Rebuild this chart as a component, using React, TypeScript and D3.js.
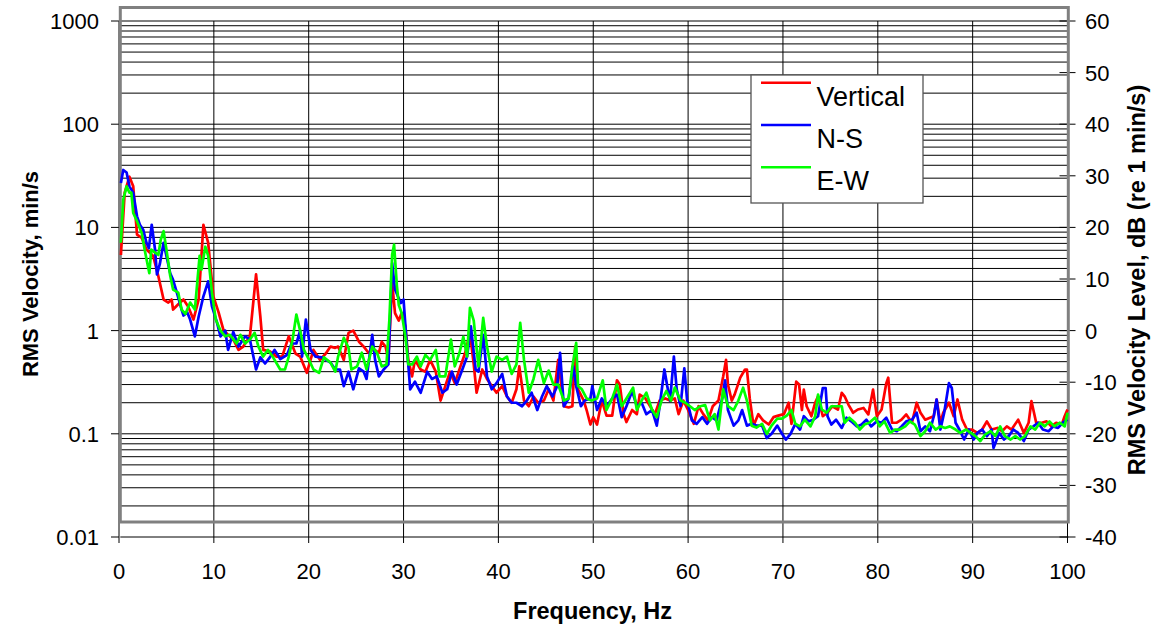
import React from "react";
import * as d3 from "d3";

type Pt = [number, number];

// Frequency (Hz), RMS velocity (min/s)
const vertical: Pt[] = [
  [0.2, 5.4], [0.6, 21.7], [1.1, 31], [1.5, 25], [1.9, 8.5], [2.4, 7.9], [2.9, 6.1], [3.6, 5.3],
  [4.15, 3.36], [4.7, 2.0], [5.2, 1.87], [5.55, 2.0], [5.7, 1.6], [6.25, 1.8], [6.8, 2.0], [7.3, 1.7],
  [7.85, 1.28], [8.4, 2.0], [8.9, 10.6], [9.4, 7.1], [9.95, 2.15], [10.5, 1.5], [11.0, 1.02], [11.5, 0.91],
  [12.05, 0.82], [12.6, 0.65], [13.1, 0.7], [13.8, 0.88], [14.45, 3.5], [14.9, 1.37], [15.2, 0.65],
  [15.9, 0.63], [16.6, 0.56], [17.2, 0.56], [17.9, 0.88], [18.6, 0.6], [19.1, 0.56], [19.8, 0.39],
  [20.5, 0.65], [21.2, 0.52], [21.8, 0.6], [22.3, 0.7], [22.8, 0.68], [23.1, 0.7], [23.7, 0.52],
  [24.2, 0.95], [24.7, 1.0], [25.3, 0.78], [25.8, 0.7], [26.3, 0.61], [26.8, 0.66], [27.4, 0.61],
  [27.7, 0.78], [28.1, 0.7], [28.4, 0.52], [28.8, 2.9], [29.1, 1.48], [29.5, 1.25], [29.8, 1.48],
  [30.2, 1.1], [30.5, 0.52], [30.9, 0.36], [31.2, 0.52], [31.8, 0.42], [32.3, 0.4], [32.8, 0.52],
  [33.4, 0.4], [33.9, 0.21], [34.4, 0.29], [34.9, 0.4], [35.4, 0.31], [36.0, 0.45], [36.5, 0.61],
  [37.0, 0.95], [37.4, 0.47], [37.7, 0.25], [38.3, 0.42], [38.8, 0.34], [39.3, 0.29], [39.8, 0.25],
  [40.4, 0.29], [40.9, 0.23], [41.4, 0.2], [41.9, 0.27], [42.2, 0.45], [42.7, 0.21], [43.2, 0.185],
  [43.7, 0.23], [44.2, 0.2], [44.8, 0.21], [45.3, 0.27], [45.8, 0.21], [46.3, 0.52], [46.9, 0.185],
  [47.4, 0.18], [47.8, 0.185], [48.1, 0.7], [48.4, 0.27], [49.0, 0.21], [49.3, 0.17], [49.7, 0.123],
  [50.0, 0.145], [50.4, 0.123], [50.9, 0.21], [51.4, 0.15], [52.0, 0.15], [52.5, 0.33], [52.8, 0.3],
  [53.2, 0.155], [53.5, 0.13], [54.1, 0.17], [54.6, 0.155], [54.9, 0.24], [55.5, 0.22], [56.0, 0.185],
  [56.5, 0.155], [57.0, 0.21], [57.6, 0.22], [58.1, 0.21], [58.6, 0.22], [59.0, 0.155], [59.5, 0.21],
  [60.0, 0.17], [60.6, 0.125], [61.1, 0.185], [61.6, 0.155], [62.1, 0.135], [62.6, 0.185], [63.2, 0.21],
  [63.7, 0.36], [64.0, 0.52], [64.2, 0.3], [64.6, 0.21], [64.9, 0.24], [65.5, 0.35], [66.0, 0.42],
  [66.2, 0.42], [66.5, 0.22], [66.9, 0.12], [67.4, 0.155], [67.9, 0.135], [68.5, 0.123], [69.0, 0.145],
  [69.5, 0.15], [70.1, 0.155], [70.6, 0.2], [70.9, 0.125], [71.4, 0.32], [71.7, 0.3], [72.0, 0.17],
  [72.2, 0.268], [72.5, 0.185], [73.0, 0.148], [73.4, 0.2], [73.7, 0.231], [74.2, 0.148], [74.7, 0.16],
  [75.2, 0.185], [75.8, 0.172], [76.2, 0.249], [76.5, 0.231], [76.9, 0.192], [77.4, 0.16], [77.9, 0.172],
  [78.5, 0.178], [79.0, 0.154], [79.5, 0.268], [79.9, 0.148], [80.4, 0.172], [80.9, 0.31], [81.1, 0.35],
  [81.5, 0.128], [82.0, 0.128], [82.5, 0.137], [83.0, 0.154], [83.6, 0.128], [84.1, 0.2], [84.5, 0.16],
  [85.0, 0.137], [85.5, 0.143], [85.9, 0.148], [86.2, 0.215], [86.6, 0.128], [86.9, 0.16], [87.5, 0.2],
  [88.0, 0.148], [88.4, 0.215], [88.9, 0.137], [89.4, 0.11], [89.9, 0.11], [90.5, 0.102], [91.0, 0.11],
  [91.5, 0.132], [92.0, 0.11], [92.6, 0.114], [93.1, 0.106], [93.6, 0.118], [94.1, 0.11], [94.8, 0.137],
  [95.4, 0.102], [95.9, 0.128], [96.2, 0.207], [96.7, 0.128], [97.3, 0.128], [97.8, 0.132], [98.3, 0.118],
  [98.8, 0.128], [99.4, 0.123], [99.7, 0.148], [100, 0.172],
];

const northSouth: Pt[] = [
  [0.2, 27], [0.45, 36], [0.8, 34], [1.1, 25], [1.5, 21.7], [1.9, 12.8], [2.2, 10.6], [2.55, 9.5],
  [2.9, 7.1], [3.15, 6.3], [3.45, 10.6], [3.8, 6.1], [4.0, 3.5], [4.3, 4.4], [4.7, 7.1], [5.0, 5.3],
  [5.4, 3.6], [5.7, 3.1], [6.1, 2.33], [6.6, 1.6], [6.8, 1.4], [7.2, 1.5], [7.5, 1.28], [8.0, 0.88],
  [8.4, 1.37], [8.9, 2.15], [9.4, 3.0], [9.8, 1.72], [10.3, 1.23], [10.7, 0.88], [11.2, 1.0], [11.5, 0.65],
  [12.05, 0.97], [12.6, 0.7], [13.3, 0.88], [13.8, 0.82], [14.45, 0.42], [14.9, 0.55], [15.4, 0.48],
  [15.9, 0.55], [16.4, 0.65], [17.0, 0.53], [17.7, 0.58], [18.2, 0.75], [18.7, 0.75], [19.1, 1.0],
  [19.3, 0.56], [19.7, 1.28], [20.2, 0.65], [20.7, 0.56], [21.4, 0.55], [22.3, 0.49], [22.8, 0.42],
  [23.3, 0.42], [23.7, 0.29], [24.2, 0.4], [24.7, 0.27], [25.3, 0.43], [25.8, 0.4], [26.1, 0.34],
  [26.7, 0.91], [27.0, 0.52], [27.4, 0.36], [27.9, 0.42], [28.4, 0.47], [28.8, 4.5], [29.1, 2.5],
  [29.7, 1.85], [30.0, 2.0], [30.4, 0.61], [30.7, 0.27], [31.2, 0.32], [31.8, 0.25], [32.5, 0.4],
  [33.0, 0.34], [33.5, 0.36], [34.1, 0.25], [34.6, 0.27], [35.1, 0.4], [35.6, 0.3], [36.2, 0.42],
  [36.7, 0.56], [37.1, 1.1], [37.6, 0.42], [37.9, 0.4], [38.4, 0.91], [38.8, 0.36], [39.3, 0.27],
  [39.8, 0.31], [40.4, 0.38], [40.9, 0.23], [41.4, 0.2], [41.9, 0.2], [42.5, 0.185], [43.0, 0.21],
  [43.5, 0.25], [44.1, 0.17], [44.6, 0.23], [45.1, 0.29], [45.7, 0.23], [46.2, 0.29], [46.5, 0.61],
  [46.9, 0.185], [47.4, 0.22], [47.9, 0.45], [48.2, 0.29], [48.7, 0.185], [49.1, 0.21], [49.7, 0.22],
  [49.9, 0.29], [50.4, 0.17], [50.9, 0.22], [51.4, 0.185], [52.0, 0.22], [52.5, 0.24], [53.0, 0.145],
  [53.5, 0.185], [54.1, 0.26], [54.6, 0.185], [55.1, 0.2], [55.6, 0.155], [56.2, 0.17], [56.7, 0.12],
  [57.0, 0.185], [57.5, 0.42], [57.8, 0.29], [58.1, 0.21], [58.5, 0.56], [58.8, 0.27], [59.2, 0.185],
  [59.6, 0.43], [59.9, 0.21], [60.4, 0.135], [60.9, 0.125], [61.5, 0.145], [62.0, 0.125], [62.5, 0.145],
  [63.0, 0.135], [63.6, 0.22], [63.9, 0.33], [64.2, 0.17], [64.8, 0.12], [65.3, 0.135], [65.7, 0.17],
  [66.2, 0.12], [66.7, 0.125], [67.2, 0.12], [67.8, 0.12], [68.3, 0.091], [68.8, 0.1], [69.4, 0.12],
  [69.9, 0.1], [70.3, 0.088], [70.8, 0.1], [71.3, 0.125], [71.8, 0.11], [72.2, 0.148], [72.7, 0.132],
  [73.2, 0.137], [73.7, 0.148], [74.2, 0.278], [74.5, 0.278], [74.7, 0.148], [75.1, 0.123], [75.6, 0.137],
  [76.2, 0.114], [76.7, 0.143], [77.2, 0.132], [77.8, 0.118], [78.3, 0.123], [78.8, 0.137], [79.3, 0.118],
  [79.9, 0.132], [80.4, 0.128], [80.9, 0.143], [81.5, 0.11], [82.0, 0.106], [82.5, 0.118], [83.0, 0.132],
  [83.6, 0.137], [84.1, 0.16], [84.5, 0.106], [85.0, 0.118], [85.5, 0.106], [85.9, 0.148], [86.2, 0.215],
  [86.6, 0.11], [87.0, 0.16], [87.5, 0.31], [87.8, 0.278], [88.2, 0.128], [88.6, 0.11], [89.1, 0.088],
  [89.6, 0.11], [90.1, 0.088], [90.5, 0.102], [91.0, 0.11], [91.5, 0.095], [92.0, 0.11], [92.2, 0.073],
  [92.8, 0.102], [93.3, 0.088], [93.8, 0.095], [94.3, 0.11], [94.8, 0.102], [95.4, 0.085], [95.9, 0.11],
  [96.4, 0.118], [96.9, 0.128], [97.4, 0.11], [98.0, 0.106], [98.5, 0.118], [99.0, 0.114], [99.5, 0.128],
  [100, 0.137],
];

const eastWest: Pt[] = [
  [0.2, 7.1], [0.45, 18.6], [0.8, 25], [1.1, 21.7], [1.3, 21.7], [1.5, 13.8], [1.9, 11.5], [2.4, 8.8],
  [2.7, 6.1], [3.2, 3.6], [3.4, 6.1], [3.8, 5.7], [4.15, 5.4], [4.4, 7.6], [4.7, 9.2], [5.0, 6.1],
  [5.4, 3.4], [5.7, 2.5], [6.25, 2.33], [6.6, 1.6], [7.0, 1.45], [7.5, 1.87], [8.0, 1.6], [8.5, 5.3],
  [8.7, 3.9], [9.1, 6.5], [9.4, 5.3], [9.8, 2.33], [10.2, 1.28], [10.7, 1.0], [11.2, 0.88], [11.7, 0.91],
  [12.4, 0.75], [12.8, 0.91], [13.3, 0.75], [13.8, 0.82], [14.3, 0.95], [14.7, 0.7], [15.2, 0.56],
  [15.7, 0.65], [16.2, 0.56], [17.0, 0.42], [17.5, 0.42], [17.9, 0.56], [18.3, 0.82], [18.7, 1.43],
  [19.1, 1.0], [19.5, 0.65], [20.0, 0.53], [20.5, 0.42], [21.1, 0.39], [21.6, 0.55], [22.3, 0.49],
  [22.8, 0.4], [23.1, 0.56], [23.7, 0.85], [24.2, 0.68], [24.5, 0.42], [25.1, 0.45], [25.6, 0.61],
  [26.1, 0.42], [26.7, 0.7], [27.2, 0.61], [27.7, 0.45], [28.2, 0.47], [28.5, 1.25], [28.8, 5.45],
  [29.0, 6.8], [29.3, 2.7], [29.5, 1.77], [29.8, 1.48], [30.2, 0.87], [30.5, 0.47], [30.9, 0.47],
  [31.4, 0.56], [31.8, 0.45], [32.3, 0.58], [32.8, 0.52], [33.4, 0.65], [33.8, 0.36], [34.4, 0.36],
  [35.0, 0.82], [35.4, 0.45], [35.9, 0.61], [36.3, 0.87], [36.7, 0.56], [37.0, 1.66], [37.4, 1.25],
  [37.9, 0.45], [38.4, 1.33], [38.8, 0.7], [39.3, 0.4], [39.8, 0.56], [40.4, 0.52], [40.9, 0.56],
  [41.4, 0.38], [41.9, 0.47], [42.3, 1.19], [42.7, 0.52], [43.2, 0.25], [43.7, 0.34], [44.2, 0.52],
  [44.8, 0.31], [45.3, 0.41], [45.8, 0.3], [46.3, 0.3], [46.9, 0.21], [47.4, 0.22], [47.8, 0.45],
  [48.2, 0.76], [48.4, 0.29], [48.8, 0.27], [49.3, 0.22], [49.8, 0.21], [50.4, 0.22], [51.0, 0.33],
  [51.4, 0.17], [52.0, 0.22], [52.5, 0.3], [53.0, 0.185], [53.5, 0.22], [54.2, 0.28], [54.6, 0.17],
  [55.1, 0.21], [55.6, 0.25], [56.2, 0.17], [56.7, 0.145], [57.2, 0.21], [57.7, 0.26], [58.2, 0.21],
  [58.6, 0.28], [59.2, 0.21], [59.7, 0.2], [60.2, 0.185], [60.7, 0.17], [61.3, 0.185], [61.8, 0.19],
  [62.3, 0.135], [62.8, 0.155], [63.2, 0.11], [63.7, 0.27], [64.2, 0.185], [64.8, 0.17], [65.3, 0.21],
  [65.8, 0.28], [66.2, 0.21], [66.7, 0.12], [67.2, 0.115], [67.8, 0.125], [68.3, 0.1], [68.8, 0.12],
  [69.4, 0.14], [69.9, 0.14], [70.4, 0.15], [70.9, 0.17], [71.3, 0.125], [71.8, 0.118], [72.3, 0.137],
  [72.9, 0.118], [73.4, 0.148], [73.7, 0.24], [74.1, 0.172], [74.6, 0.16], [75.1, 0.185], [75.6, 0.185],
  [76.2, 0.185], [76.5, 0.128], [77.0, 0.143], [77.6, 0.128], [78.1, 0.11], [78.6, 0.123], [79.1, 0.128],
  [79.7, 0.143], [80.2, 0.118], [80.7, 0.132], [81.3, 0.102], [81.8, 0.11], [82.3, 0.11], [82.9, 0.118],
  [83.4, 0.132], [83.9, 0.123], [84.5, 0.095], [85.0, 0.106], [85.5, 0.128], [86.1, 0.11], [86.6, 0.118],
  [87.1, 0.114], [87.6, 0.118], [88.2, 0.11], [88.7, 0.102], [89.3, 0.11], [89.8, 0.102], [90.3, 0.095],
  [90.8, 0.085], [91.3, 0.098], [91.9, 0.106], [92.4, 0.095], [92.9, 0.118], [93.4, 0.095], [94.0, 0.088],
  [94.5, 0.095], [95.0, 0.088], [95.5, 0.095], [96.1, 0.118], [96.6, 0.11], [97.1, 0.128], [97.6, 0.118],
  [98.1, 0.132], [98.6, 0.118], [99.2, 0.128], [99.7, 0.118], [100, 0.16],
];

const seriesNames = ["Vertical", "N-S", "E-W"];
const seriesColors = ["#FF0000", "#0000FF", "#00FF00"];
const freqTicks = [0, 10, 20, 30, 40, 50, 60, 70, 80, 90, 100];
const velTicks = [0.01, 0.1, 1, 10, 100, 1000];
const velTickLabels = ["0.01", "0.1", "1", "10", "100", "1000"];
const dbTicks = [-40, -30, -20, -10, 0, 10, 20, 30, 40, 50, 60];
const minorMultipliers = [2, 3, 4, 5, 6, 7, 8, 9];

const FONT = "'Liberation Sans', Arial, Helvetica, sans-serif";

export default function App() {
  const W = 1157;
  const H = 629;
  const left = 119;
  const right = 1067.5;
  const top = 21;
  const bottom = 537;

  const x = d3.scaleLinear().domain([0, 100]).range([left, right]);
  const y = d3.scaleLog().domain([0.01, 1000]).range([bottom, top]);
  const yDb = d3.scaleLinear().domain([-40, 60]).range([bottom, top]);

  const line = d3
    .line<Pt>()
    .x((d) => x(d[0]))
    .y((d) => y(d[1]));

  const minorVals: number[] = [];
  velTicks.slice(0, -1).forEach((dec) => minorMultipliers.forEach((m) => minorVals.push(dec * m)));
  const gridVals = [...velTicks, ...minorVals];

  const data = [vertical, northSouth, eastWest];

  const frame = { x0: 120.3, y0: 7.5, x1: 1068.3, y1: 522 };

  return (
    <svg
      width={W}
      height={H}
      style={{ position: "absolute", left: 0, top: 0, display: "block", background: "#fff" }}
      fontFamily={FONT}
    >
      <rect x={0} y={0} width={W} height={H} fill="#fff" />
      {/* horizontal gridlines */}
      {gridVals.map((v, i) => (
        <line key={"h" + i} x1={frame.x0} x2={frame.x1} y1={y(v)} y2={y(v)} stroke="#000" strokeWidth={1} />
      ))}
      {/* vertical gridlines */}
      {freqTicks.map((f) => (
        <line key={"v" + f} x1={x(f)} x2={x(f)} y1={top} y2={bottom + 6} stroke="#000" strokeWidth={1} />
      ))}
      {/* left major ticks */}
      {velTicks.map((v) => (
        <line key={"lt" + v} x1={left - 8} x2={left} y1={y(v)} y2={y(v)} stroke="#000" strokeWidth={1} />
      ))}
      {/* right axis */}
      <line x1={right} x2={right} y1={top} y2={bottom} stroke="#000" strokeWidth={1} />
      {dbTicks.map((d) => (
        <line key={"rt" + d} x1={right - 8} x2={right + 8} y1={yDb(d)} y2={yDb(d)} stroke="#000" strokeWidth={1} />
      ))}
      {/* plot frame */}
      <rect
        x={frame.x0}
        y={frame.y0}
        width={frame.x1 - frame.x0}
        height={frame.y1 - frame.y0}
        fill="none"
        stroke="#808080"
        strokeWidth={3}
      />
      {/* data lines */}
      {data.map((s, i) => (
        <path
          key={"s" + i}
          d={line(s) || ""}
          fill="none"
          stroke={seriesColors[i]}
          strokeWidth={2.7}
          strokeLinejoin="round"
        />
      ))}
      {/* left tick labels */}
      {velTicks.map((v, i) => (
        <text key={"ll" + v} x={99} y={y(v)} dy="0.36em" textAnchor="end" fontSize={22} fill="#000">
          {velTickLabels[i]}
        </text>
      ))}
      {/* right tick labels */}
      {dbTicks.map((d) => (
        <text key={"rl" + d} x={1085} y={yDb(d)} dy="0.36em" textAnchor="start" fontSize={22} fill="#000">
          {d}
        </text>
      ))}
      {/* x tick labels */}
      {freqTicks.map((f) => (
        <text key={"xl" + f} x={x(f)} y={579} textAnchor="middle" fontSize={22} fill="#000">
          {f}
        </text>
      ))}
      {/* axis titles */}
      <text x={592.5} y={619} textAnchor="middle" fontSize={23.5} fontWeight="bold" fill="#000">
        Frequency, Hz
      </text>
      <text
        transform="translate(37.5,274) rotate(-90)"
        textAnchor="middle"
        fontSize={22}
        fontWeight="bold"
        fill="#000"
      >
        RMS Velocity, min/s
      </text>
      <text
        transform="translate(1145,280) rotate(-90)"
        textAnchor="middle"
        fontSize={23.5}
        fontWeight="bold"
        fill="#000"
      >
        RMS Velocity Level, dB (re 1 min/s)
      </text>
      {/* legend */}
      <rect x={751} y={75} width={172} height={128} fill="#fff" stroke="#555" strokeWidth={1.3} />
      {seriesNames.map((n, i) => (
        <g key={"lg" + i}>
          <line
            x1={761}
            x2={811}
            y1={82.7 + i * 42.3}
            y2={82.7 + i * 42.3}
            stroke={seriesColors[i]}
            strokeWidth={2.6}
          />
          <text x={816.5} y={105.7 + i * 42.3} fontSize={27} fill="#000">
            {n}
          </text>
        </g>
      ))}
    </svg>
  );
}
